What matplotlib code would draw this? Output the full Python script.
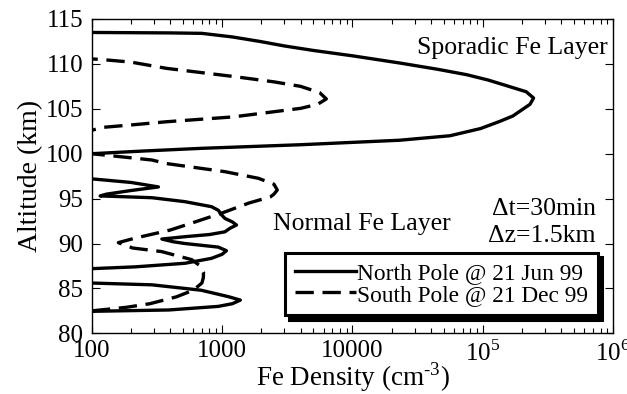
import numpy as np
import matplotlib
matplotlib.use("Agg")
import matplotlib.pyplot as plt

plt.rcParams['font.family'] = ['Liberation Serif', 'DejaVu Serif']
plt.rcParams['mathtext.fontset'] = 'custom'
plt.rcParams['mathtext.rm'] = 'Liberation Serif'

# North Pole @ 21 Jun 99 (solid); values < 100 run off the left edge
north_alt = [113.6, 113.5, 113.45, 113.4, 113.0, 112.5, 112.0, 111.5, 110.9, 110.1,
             109.4, 108.8, 108.2, 107.6, 106.9, 106.2, 105.5, 104.9, 104.2, 103.6,
             102.8, 102.0, 101.5, 101.0, 100.6, 100.3, 100.0, 98.6, 97.2, 96.8,
             96.3, 95.9, 95.5, 95.3, 95.1, 94.66, 94.1, 93.7, 93.2, 92.8,
             92.4, 92.06, 91.7, 91.3, 91.0, 90.76, 90.5, 90.2, 90.0, 89.6,
             89.2, 88.8, 88.35, 87.8, 87.4, 87.2, 86.4, 85.6, 85.4, 84.8,
             84.08, 83.7, 83.3, 83.0, 82.6, 82.45, 82.3]
north_fe = [30, 100, 400, 700, 1200, 1950, 3000, 5000, 10000, 23000,
            45000, 75000, 110000, 150000, 215000, 245000, 230000, 200000, 170000, 135000,
            96000, 56000, 23000, 4000, 700, 250, 100, 30, 100, 200,
            325, 200, 130, 116, 290, 518, 830, 935, 990, 1050,
            1200, 1290, 1150, 1050, 800, 520, 345, 420, 518, 935,
            1080, 1000, 830, 520, 215, 100, 30, 100, 290, 690,
            1120, 1380, 1200, 935, 390, 100, 30]

# South Pole @ 21 Dec 99 (dashed)
south_alt = [110.8, 110.5, 110.2, 109.5, 108.6, 108.0, 107.5, 106.8, 106.1, 105.5,
             105.05, 104.1, 103.56, 103.2, 102.94, 101.5, 100.0, 99.3, 98.9, 98.0,
             97.26, 96.6, 95.96, 95.5, 95.2, 94.5, 93.4, 92.4, 91.5, 90.6,
             90.1, 89.5, 89.1, 88.2, 87.5, 86.8, 86.2, 85.6, 84.8, 84.07,
             83.3, 82.9, 82.5, 82.4]
south_fe = [50, 116, 200, 376, 1220, 2500, 4000, 5600, 6300, 5400,
            4000, 1220, 376, 200, 123, 50, 100, 289, 376, 1050,
            1900, 2500, 2650, 2500, 2350, 1600, 1000, 620, 400, 215,
            160, 206, 344, 585, 680, 720, 718, 700, 600, 448,
            280, 185, 100, 50]

xticks = [100, 1000, 10000, 1e5, 1e6]
xticklabels = ['100', '1000', '10000', r'10$^5$', r'10$^6$']
yticks = [80, 85, 90, 95, 100, 105, 110, 115]

fig = plt.figure(figsize=(6.27, 3.94), dpi=100)
ax = fig.add_axes([0.1463, 0.154, 0.8317, 0.7978])

ax.plot(north_fe, north_alt, color='black', lw=2.4, solid_joinstyle='round',
        label='North Pole @ 21 Jun 99')
ax.plot(south_fe, south_alt, color='black', lw=2.4, dashes=(5.5, 2.6),
        label='South Pole @ 21 Dec 99')

ax.set_xscale('log')
ax.set_xlim(100, 1e6)
ax.set_ylim(80, 115)
ax.set_xticks(xticks)
ax.set_xticklabels(xticklabels)
ax.set_yticks(yticks)
ax.tick_params(axis='both', which='major', direction='in', length=6, width=0.8,
               top=True, right=True, labelsize=18, pad=6)
ax.tick_params(axis='x', which='major', pad=5)
ax.tick_params(axis='x', which='minor', direction='in', length=3.5, width=0.8, top=True)
ax.tick_params(axis='y', which='minor', left=False, right=False)
for s in ax.spines.values():
    s.set_linewidth(1.0)

ax.set_xlabel(r'Fe Density (cm$^{\text{-3}}$)', fontsize=19.5, labelpad=-4.5)
ax.set_ylabel('Altitude (km)', fontsize=20, labelpad=2)

ax.text(0.99, 0.889, 'Sporadic Fe Layer', transform=ax.transAxes,
        ha='right', va='baseline', fontsize=18.5)
ax.text(0.348, 0.329, 'Normal Fe Layer', transform=ax.transAxes,
        ha='left', va='baseline', fontsize=18.5)
ax.text(0.967, 0.376, '\u0394t=30min', transform=ax.transAxes,
        ha='right', va='baseline', fontsize=18.5)
ax.text(0.967, 0.291, '\u0394z=1.5km', transform=ax.transAxes,
        ha='right', va='baseline', fontsize=18.5)

leg = ax.legend(loc='lower right', bbox_to_anchor=(0.97, 0.057), borderaxespad=0,
                fontsize=16.8, handlelength=2.6, handletextpad=0.05,
                labelspacing=0.0, borderpad=0.42, fancybox=False, framealpha=1,
                edgecolor='black',
                shadow={'ox': 3, 'oy': -3, 'color': 'black', 'alpha': 1})
leg.get_frame().set_linewidth(2.2)

fig.savefig('out.png', dpi=100)
